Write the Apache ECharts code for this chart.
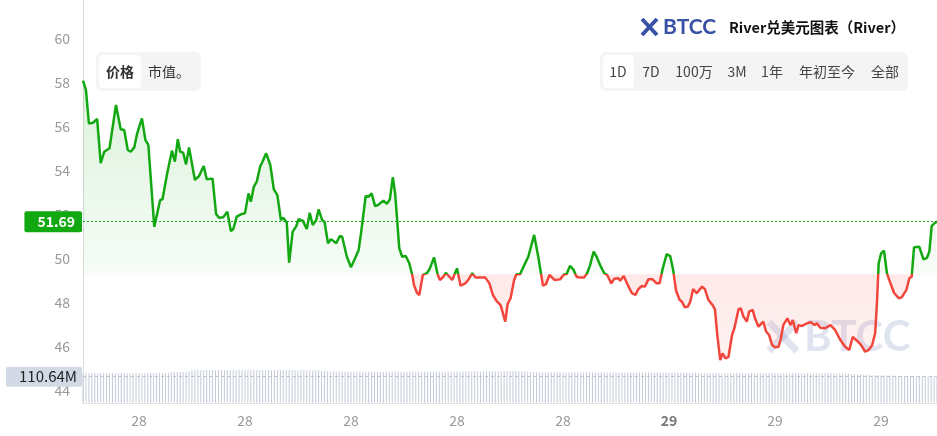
<!DOCTYPE html>
<html>
<head>
<meta charset="utf-8">
<script src="https://cdn.jsdelivr.net/npm/echarts@6/dist/echarts.min.js"></script>
<style>
html,body{margin:0;padding:0;background:#fff;}
#main{width:937px;height:436px;}
</style>
</head>
<body>
<div id="main"></div>
<script>
// ---- data ----
const startTimeUTC = Date.UTC(2025, 9, 28, 7, 25); // 28th 07:25
const baseline = 49.30;   // reference (24h-ago) price splitting green / red
const xLabelStepHours = 3;
const minutes = [
  0,5,10,17,24,30,36,45,56,64,
  70,76,81,87,92,100,106,111,121,126,
  131,135,143,151,156,161,165,170,175,180,
  190,197,205,210,220,226,231,238,245,251,
  255,261,269,275,281,285,290,295,301,304,
  311,318,324,330,336,340,346,350,356,362,
  366,373,380,385,390,396,400,406,410,416,
  421,430,436,440,448,455,462,468,472,476,
  480,485,490,496,501,510,516,521,526,530,
  537,542,548,554,559,562,567,571,577,584,
  589,596,602,606,612,616,622,627,635,641,
  649,654,661,666,677,683,690,696,702,709,
  717,721,726,732,736,742,748,756,766,773,
  781,786,792,801,810,817,821,827,833,838,
  844,851,856,861,867,872,878,885,890,897,
  902,909,912,918,925,932,938,943,949,954,
  960,967,974,979,984,991,997,1002,1007,1013,
  1017,1022,1027,1031,1036,1042,1051,1056,1062,1069,
  1073,1077,1082,1086,1091,1096,1102,1106,1113,1117,
  1121,1127,1131,1137,1141,1147,1155,1160,1165,1170,
  1175,1181,1185,1189,1196,1201,1205,1211,1215,1220,
  1229,1236,1242,1246,1252,1260,1269,1277,1286,1294,
  1301,1307,1314,1321,1328,1334,1340,1345,1348,1351,
  1355,1360,1365,1370,1377,1385,1390,1398,1403,1407,
  1411,1420,1427,1433,1437,1441,1447,1450
];
const prices = [
  58.10,57.68,56.16,56.19,56.37,54.35,54.87,55.03,57.00,55.89,
  55.86,54.95,54.87,55.07,55.71,56.39,55.40,55.18,51.46,52.07,
  52.68,52.71,53.89,54.92,54.42,55.44,54.87,54.83,54.30,55.07,
  53.59,53.77,54.22,53.62,53.65,52.04,51.87,51.89,52.15,51.27,
  51.35,51.92,52.04,52.07,52.98,52.60,53.28,53.51,54.22,54.37,
  54.80,54.27,53.16,52.90,51.77,51.87,51.65,49.83,51.24,51.48,
  51.81,51.74,51.36,52.10,51.54,51.77,52.25,51.77,51.69,50.71,
  50.90,50.71,51.04,51.01,50.10,49.62,50.03,50.40,51.16,52.00,
  52.86,52.83,52.98,52.40,52.45,52.65,52.50,52.71,53.71,52.98,
  50.48,50.10,50.13,49.80,49.27,48.81,48.46,48.36,49.27,49.35,
  49.57,50.07,49.31,49.04,49.19,49.37,49.19,49.04,49.57,48.78,
  48.89,49.04,49.35,49.16,49.16,49.15,48.89,48.36,48.09,47.90,
  47.15,47.95,48.21,49.04,49.30,49.30,49.65,50.10,51.09,50.10,
  48.78,48.85,49.27,49.04,49.07,49.30,49.30,49.69,49.50,49.19,
  49.15,49.16,49.35,49.72,50.33,50.10,49.72,49.35,49.27,48.89,
  49.10,49.12,49.01,49.22,48.81,48.44,48.36,48.63,48.77,48.74,
  49.07,49.07,48.89,48.89,49.53,50.22,50.13,49.50,48.55,48.13,
  48.05,47.80,47.83,48.05,48.63,48.44,48.74,48.62,48.13,47.90,
  47.71,46.54,45.40,45.71,45.48,45.55,46.54,46.85,47.71,47.75,
  47.40,47.15,47.60,47.68,47.30,46.92,47.15,46.69,46.54,46.09,
  45.98,46.01,46.39,46.99,47.30,46.99,47.22,46.62,46.99,46.95,
  47.07,47.12,46.99,47.07,46.87,46.85,46.99,46.77,46.31,46.01,
  45.86,46.46,46.28,46.09,45.78,45.86,46.09,46.62,47.98,49.80,
  50.25,50.37,49.35,48.96,48.46,48.21,48.25,48.59,49.12,49.19,
  50.53,50.55,49.98,50.05,50.33,51.50,51.65,51.69
];
// 24h volume in millions, one bar per 5 minutes
const volumeStepMin = 5;
const volumes = [
  124.8,125.1,124.6,125.3,125.0,124.7,125.2,125.5,124.9,125.1,
  125.4,124.8,125.0,125.3,125.6,125.2,124.9,125.1,125.4,125.7,
  125.3,125.0,125.5,125.8,125.6,125.9,126.2,125.8,126.1,126.5,
  130.2,130.8,131.1,130.6,131.4,131.9,132.5,
  138.2,138.9,139.1,138.7,139.4,139.0,138.8,139.3,139.6,139.2,
  138.9,139.5,139.8,139.4,139.1,139.7,140.0,139.6,139.3,139.8,
  139.5,139.2,139.0,139.4,139.7,139.3,139.0,138.8,139.2,139.5,
  139.1,138.9,139.4,139.6,139.2,138.8,138.5,138.9,139.1,138.7,
  138.4,138.0,137.6,136.8,135.9,134.8,
  133.9,133.2,132.6,132.1,132.4,131.9,132.2,132.5,132.0,131.8,
  132.3,132.6,132.1,131.7,132.0,132.4,132.2,131.9,131.6,132.0,
  132.3,132.1,131.8,132.2,132.5,132.0,131.7,131.9,132.3,132.6,
  132.2,131.8,132.0,132.4,132.1,131.9,132.3,132.7,132.4,132.0,
  131.8,132.2,132.5,132.8,132.4,132.1,132.6,133.0,132.7,133.1,
  133.4,133.0,133.3,133.7,133.5,133.9,134.2,134.0,134.4,
  134.8,135.1,134.9,135.3,135.0,134.6,134.2,133.6,132.9,132.0,
  131.2,130.5,129.9,129.6,129.8,129.4,129.1,129.5,129.7,129.3,
  129.0,129.4,129.6,129.2,128.9,129.3,129.5,129.1,128.8,129.2,
  129.4,129.0,128.7,129.1,129.3,128.9,128.6,129.0,129.2,128.8,
  128.5,128.9,129.1,128.7,128.4,128.8,129.0,128.6,128.3,128.7,
  128.9,128.5,128.2,128.6,128.8,128.4,128.1,128.5,128.7,128.3,
  128.0,127.6,127.2,126.9,126.5,126.2,125.9,125.6,
  125.4,125.1,125.3,124.9,125.2,125.5,125.0,124.8,125.1,125.4,
  124.9,125.2,125.6,125.3,124.9,125.1,125.5,125.2,124.8,125.0,
  125.4,125.1,124.7,125.0,125.3,124.9,124.6,124.9,125.2,124.8,
  124.5,124.8,125.1,124.7,124.4,124.8,125.0,124.6,124.3,124.6,
  124.9,124.5,124.2,124.5,124.8,124.4,124.1,124.3,124.0,123.6,
  123.1,122.5,121.8,121.0,120.2,119.4,118.7,118.1,117.6,117.2,116.8,
  116.4,116.0,115.7,115.4,115.1,114.8,114.5,114.1,113.8,113.5,
  113.2,112.9,112.6,112.3,112.0,111.7,111.4,111.1,110.9,110.64
];
const yTickLabels = [44, 46, 48, 50, 52, 54, 56, 58, 60];
const titleText = 'River兑美元图表（River）';
const leftTabs = ['价格', '市值。'];
const rangeTabs = ['1D', '7D', '100万', '3M', '1年', '年初至今', '全部'];

// ---- build ----
const FONT = '"Noto Sans CJK SC", "Noto Sans", sans-serif';
const GREEN = '#12a812';
const RED = '#f2463c';
const MIN = 60000;
const priceData = minutes.map((m, i) => [startTimeUTC + m * MIN, prices[i]]);
const volData = volumes.map((v, i) => [startTimeUTC + i * volumeStepMin * MIN, v]);
const tMin = startTimeUTC;
const tMax = startTimeUTC + minutes[minutes.length - 1] * MIN;
const lastPrice = prices[prices.length - 1];
const lastVol = volumes[volumes.length - 1];
const maxP = Math.max(...prices), minP = Math.min(...prices);
const f = (maxP - baseline) / (maxP - minP);

// x labels every 3 hours, aligned to the clock
const stepMs = xLabelStepHours * 3600 * 1000;
const xLabelValues = [];
for (let t = Math.ceil(tMin / stepMs) * stepMs; t <= tMax; t += stepMs) xLabelValues.push(t);

const areaGrad = new echarts.graphic.LinearGradient(0, 0, 0, 1, [
  { offset: 0, color: 'rgba(18,168,18,0.21)' },
  { offset: f, color: 'rgba(18,168,18,0.05)' },
  { offset: f, color: 'rgba(242,70,60,0.17)' },
  { offset: 1, color: 'rgba(242,70,60,0.09)' }
]);

const chart = echarts.init(document.getElementById('main'));

const tabX = [618, 651, 694, 737, 772, 827, 885];
const graphics = [
  // watermark
  { type: 'group', z: 0, children: [
    { type: 'line', shape: { x1: 769, y1: 322, x2: 797, y2: 351 }, style: { stroke: 'rgba(62,86,168,0.16)', lineWidth: 7 } },
    { type: 'line', shape: { x1: 797, y1: 322, x2: 769, y2: 351 }, style: { stroke: 'rgba(62,86,168,0.16)', lineWidth: 7 } },
    { type: 'text', style: { x: 804, y: 337, text: 'BTCC', fill: 'rgba(62,86,168,0.16)', font: 'bold 42px Lato, "Noto Sans", sans-serif', verticalAlign: 'middle' } }
  ]},
  // logo + title
  { type: 'line', z: 10, shape: { x1: 642, y1: 19, x2: 657, y2: 35 }, style: { stroke: '#3a52a6', lineWidth: 4 } },
  { type: 'line', z: 10, shape: { x1: 657, y1: 19, x2: 642, y2: 35 }, style: { stroke: '#3a52a6', lineWidth: 4 } },
  { type: 'text', z: 10, style: { x: 663, y: 27, text: 'BTCC', fill: '#3a52a6', font: 'bold 21px Lato, "Noto Sans", sans-serif', verticalAlign: 'middle' } },
  { type: 'text', z: 10, style: { x: 905, y: 27, text: titleText, fill: '#111', font: 'bold 14.5px ' + FONT, align: 'right', verticalAlign: 'middle' } },
  // left tabs
  { type: 'rect', z: 10, shape: { x: 96, y: 52, width: 105, height: 39, r: 6 }, style: { fill: '#f4f4f4' } },
  { type: 'rect', z: 10, shape: { x: 99, y: 55, width: 42, height: 33, r: 4 }, style: { fill: '#fff' } },
  { type: 'text', z: 11, style: { x: 120, y: 72, text: leftTabs[0], fill: '#333', font: 'bold 14px ' + FONT, align: 'center', verticalAlign: 'middle' } },
  { type: 'text', z: 11, style: { x: 148, y: 72, text: leftTabs[1], fill: '#333', font: '14px ' + FONT, verticalAlign: 'middle' } },
  // range tabs
  { type: 'rect', z: 10, shape: { x: 600, y: 52, width: 308, height: 39, r: 6 }, style: { fill: '#f4f4f4' } },
  { type: 'rect', z: 10, shape: { x: 603, y: 55, width: 31, height: 33, r: 4 }, style: { fill: '#fff' } }
].concat(rangeTabs.map((t, i) => ({
  type: 'text', z: 11,
  style: { x: tabX[i], y: 72, text: t, fill: '#444', font: '14px ' + FONT, align: 'center', verticalAlign: 'middle' }
})));

const option = {
  animation: false,
  textStyle: { fontFamily: FONT },
  grid: [
    { left: 83, right: 0, top: 0, bottom: 33 },
    { left: 83, right: 0, top: 367.5, bottom: 33.5 }
  ],
  visualMap: {
    type: 'piecewise', show: false, seriesIndex: 0, dimension: 1,
    pieces: [
      { lt: baseline, color: RED },
      { gte: baseline, lte: 1000, color: GREEN }
    ],
    outOfRange: { color: GREEN }
  },
  xAxis: [
    {
      type: 'value', gridIndex: 0, min: tMin, max: tMax,
      axisLine: { show: true, lineStyle: { color: '#e2e2e2' } },
      axisTick: { show: false },
      splitLine: { show: false },
      axisLabel: {
        color: '#999', fontSize: 14, margin: 11,
        customValues: xLabelValues,
        formatter: function (val) {
          const d = new Date(val);
          const day = d.getUTCDate();
          return (d.getUTCHours() === 0 && d.getUTCMinutes() === 0) ? '{b|' + day + '}' : String(day);
        },
        rich: { b: { fontWeight: 'bold', color: '#777', fontSize: 14 } }
      }
    },
    { type: 'value', gridIndex: 1, min: tMin, max: tMax, show: false }
  ],
  yAxis: [
    {
      type: 'value', gridIndex: 0, min: 43.45, max: 61.77,
      axisLine: { show: true, lineStyle: { color: '#dcdcdc' } },
      axisTick: { show: false },
      splitLine: { show: false },
      axisLabel: { color: '#999', fontSize: 14, margin: 13, customValues: yTickLabels }
    },
    { type: 'value', gridIndex: 1, min: 0, max: 150, show: false }
  ],
  graphic: graphics,
  series: [
    {
      type: 'line', xAxisIndex: 0, yAxisIndex: 0, data: priceData,
      showSymbol: false, symbol: 'none', z: 5,
      lineStyle: { width: 2.5 },
      areaStyle: { origin: baseline, color: areaGrad },
      markLine: {
        silent: true, symbol: 'none', z: 6,
        lineStyle: { type: [2, 2], color: GREEN, width: 1 },
        label: {
          position: 'start', distance: 1, formatter: lastPrice.toFixed(2),
          backgroundColor: GREEN, color: '#fff', fontWeight: 'bold', fontSize: 14,
          padding: [4, 7, 3, 13], borderRadius: 2
        },
        data: [{ yAxis: lastPrice }]
      }
    },
    {
      type: 'bar', xAxisIndex: 1, yAxisIndex: 1, data: volData,
      barWidth: 1, itemStyle: { color: '#c3cad8' }, z: 1,
      markLine: {
        silent: true, symbol: 'none', z: 6,
        lineStyle: { type: [3, 3], color: '#bcc4d4', width: 1 },
        label: {
          position: 'start', distance: 1, formatter: lastVol.toFixed(2) + 'M',
          backgroundColor: '#d2d9e5', color: '#222', fontSize: 15,
          padding: [3, 5, 2, 13], borderRadius: 2
        },
        data: [{ yAxis: lastVol }]
      }
    }
  ]
};
chart.setOption(option);
</script>
</body>
</html>
